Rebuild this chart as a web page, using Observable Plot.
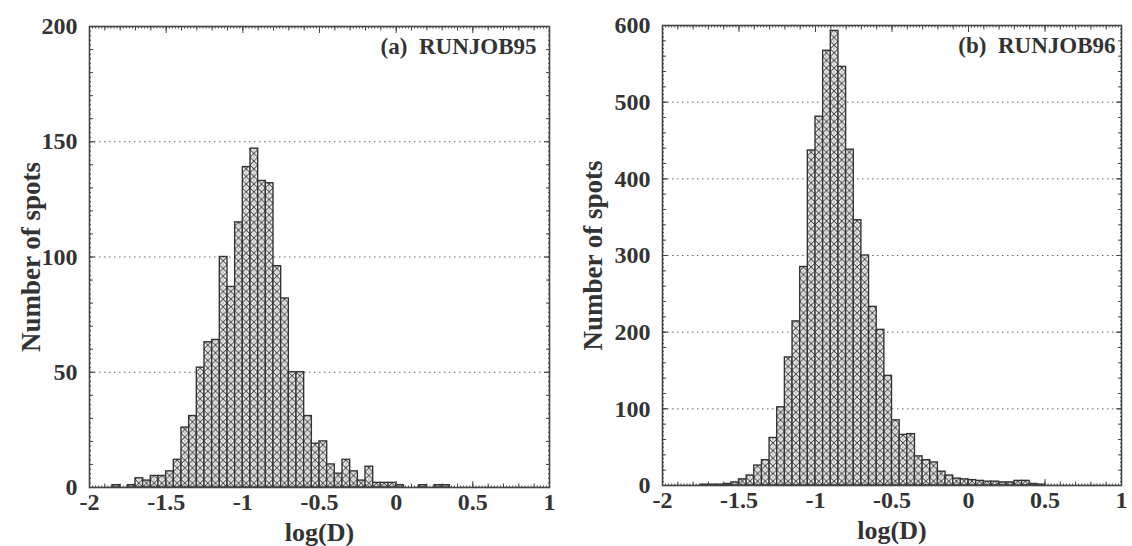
<!DOCTYPE html>
<html><head><meta charset="utf-8">
<script src="https://cdn.jsdelivr.net/npm/d3@7"></script>
<script src="https://cdn.jsdelivr.net/npm/@observablehq/plot@0.6"></script>
<style>
html,body{margin:0;padding:0;background:#fff;}
#wrap{display:flex;width:1132px;height:546px;overflow:hidden;}
svg{display:block;}
svg text{white-space:pre;}
</style></head><body><div id="wrap"></div>
<script>
// bin lower edges of log(D) (bin width 0.05)
const binLo = [-2.00,-1.95,-1.90,-1.85,-1.80,-1.75,-1.70,-1.65,-1.60,-1.55,
               -1.50,-1.45,-1.40,-1.35,-1.30,-1.25,-1.20,-1.15,-1.10,-1.05,
               -1.00,-0.95,-0.90,-0.85,-0.80,-0.75,-0.70,-0.65,-0.60,-0.55,
               -0.50,-0.45,-0.40,-0.35,-0.30,-0.25,-0.20,-0.15,-0.10,-0.05,
                0.00, 0.05, 0.10, 0.15, 0.20, 0.25, 0.30, 0.35, 0.40, 0.45,
                0.50, 0.55, 0.60, 0.65, 0.70, 0.75, 0.80, 0.85, 0.90, 0.95];
const binWidth = 0.05;
// (a) RUNJOB95 counts
const counts95 = [0,0,0,1,0,1,4,3,5,5,
                  7,12,26,31,52,63,64,100,87,115,
                  139,147,133,132,96,82,50,50,31,19,
                  20,10,6,12,7,3,9,2,2,2,
                  1,0,0,1,0,1,1,0,0,0,
                  0,0,0,0,0,0,0,0,0,0];
// (b) RUNJOB96 counts
const counts96 = [0,0,0,0,0,1,1,1,2,4,
                  8,13,26,33,62,102,167,214,285,437,
                  481,567,593,546,438,346,300,233,203,143,
                  85,66,67,38,33,30,18,13,9,8,
                  7,6,5,5,4,4,6,6,2,1,
                  0,0,0,0,0,0,0,0,0,0];
const xTicks = [-2,-1.5,-1,-0.5,0,0.5,1];
const yTicks95 = [0,50,100,150,200];
const yTicks96 = [0,100,200,300,400,500,600];
const grid95 = [50,100,150];
const grid96 = [100,200,300,400,500];
const titles = ["(a)  RUNJOB95","(b)  RUNJOB96"];
const xLabel = "log(D)";
const yLabel = "Number of spots";

const FONT = "'Liberation Serif','Times New Roman',serif";
const INK = "#333";

function panel(o){
  const data = binLo.map((lo,i)=>({lo, hi: lo+binWidth, n: o.counts[i]})).filter(d=>d.n>0);
  const yMinor = d3.range(0, o.yMax+1e-9, o.yMinorStep);
  const yMid = d3.range(0, o.yMax+1e-9, o.yMidStep);
  const xFine = d3.range(-2, 1.0001, 0.02);
  const xMinor = d3.range(-2, 1.0001, 0.1);
  const tickStyle = {fill:"none", label:null, stroke:"#444", strokeWidth:1};
  const textStyle = {fontSize:24, fontWeight:"bold", fill:INK, label:null};
  const plot = Plot.plot({
    width: o.width, height: 546,
    marginLeft: o.marginLeft, marginRight: o.marginRight,
    marginTop: o.marginTop, marginBottom: o.marginBottom,
    style: {fontFamily: FONT, background:"#fff", color: INK},
    x: {domain:[-2,1]},
    y: {domain:[0,o.yMax]},
    marks: [
      Plot.gridY(o.grid, {stroke:"#555", strokeOpacity:0.9, strokeDasharray:"1.5,3.5", strokeWidth:1}),
      Plot.rectY(data, {x1:"lo", x2:"hi", y:"n", fill:`url(#${o.id})`, stroke:"#333", strokeWidth:1.4}),
      // inward ticks on all four sides
      Plot.axisX({anchor:"bottom", ticks:xFine, tickSize:-1.5, ...tickStyle}),
      Plot.axisX({anchor:"bottom", ticks:xMinor, tickSize:-3.5, ...tickStyle}),
      Plot.axisX({anchor:"bottom", ticks:xTicks, tickSize:-6, ...tickStyle}),
      Plot.axisX({anchor:"top", ticks:xFine, tickSize:-1.5, ...tickStyle}),
      Plot.axisX({anchor:"top", ticks:xMinor, tickSize:-3.5, ...tickStyle}),
      Plot.axisX({anchor:"top", ticks:xTicks, tickSize:-6, ...tickStyle}),
      Plot.axisY({anchor:"left", ticks:yMinor, tickSize:-2, ...tickStyle}),
      Plot.axisY({anchor:"left", ticks:yMid, tickSize:-4, ...tickStyle}),
      Plot.axisY({anchor:"left", ticks:o.yTicks, tickSize:-6, ...tickStyle}),
      Plot.axisY({anchor:"right", ticks:yMinor, tickSize:-2, ...tickStyle}),
      Plot.axisY({anchor:"right", ticks:yMid, tickSize:-4, ...tickStyle}),
      Plot.axisY({anchor:"right", ticks:o.yTicks, tickSize:-6, ...tickStyle}),
      // tick labels
      Plot.axisX({anchor:"bottom", ticks:xTicks, tickSize:0, tickPadding:5, tickFormat:d=>String(d), ...textStyle}),
      Plot.axisY({anchor:"left", ticks:o.yTicks, tickSize:0, tickPadding:12, tickFormat:d=>String(d), ...textStyle}),
      Plot.frame({stroke:"#444", strokeWidth:1.6}),
      // labels and title
      Plot.text([xLabel], {frameAnchor:"bottom", lineAnchor:"middle", textAnchor:"middle", dy:45, text:d=>d, fontSize:26, fontWeight:"bold", fill:INK}),
      Plot.text([yLabel], {frameAnchor:"left", lineAnchor:"middle", textAnchor:"middle", rotate:-90, dx:o.ylabDx, text:d=>d, fontSize:27, fontWeight:"bold", fill:INK}),
      Plot.text([o.title], {frameAnchor:"top-right", lineAnchor:"middle", textAnchor:"end", dx:o.titleDx, dy:20, text:d=>d, fontSize:23, fontWeight:"bold", fill:INK})
    ]
  });
  // cross-hatch pattern aligned with the bins
  const sx = plot.scale("x"), sy = plot.scale("y");
  const x0 = sx.apply(binLo[0]);
  const w = sx.apply(binLo[1]) - x0;
  const y0 = sy.apply(0);
  const defs = d3.create("svg:defs");
  const pat = defs.append("pattern").attr("id", o.id).attr("patternUnits","userSpaceOnUse")
    .attr("x", x0).attr("y", y0).attr("width", w).attr("height", w);
  pat.append("rect").attr("width", w).attr("height", w).attr("fill", "#fff");
  pat.append("path").attr("d", `M0,0L${w},${w}M${w},0L0,${w}`).attr("stroke","#3c3c3c").attr("stroke-width",1.0).attr("fill","none");
  pat.append("path").attr("d", `M${w/2},0V1.4M${w/2},${w-1.4}V${w}`).attr("stroke","#666").attr("stroke-width",0.8).attr("fill","none");
  plot.insertBefore(defs.node(), plot.firstChild);
  return plot;
}

const wrap = document.getElementById("wrap");
wrap.appendChild(panel({counts:counts95, yMax:200, yTicks:yTicks95, grid:grid95, yMinorStep:2, yMidStep:10,
  title:titles[0], id:"hatchA", width:566, marginLeft:89, marginRight:17, marginTop:26, marginBottom:59, titleDx:-13, ylabDx:-58}));
wrap.appendChild(panel({counts:counts96, yMax:600, yTicks:yTicks96, grid:grid96, yMinorStep:5, yMidStep:20,
  title:titles[1], id:"hatchB", width:566, marginLeft:96, marginRight:11, marginTop:25, marginBottom:61, titleDx:-6, ylabDx:-69}));
</script>
</body></html>
